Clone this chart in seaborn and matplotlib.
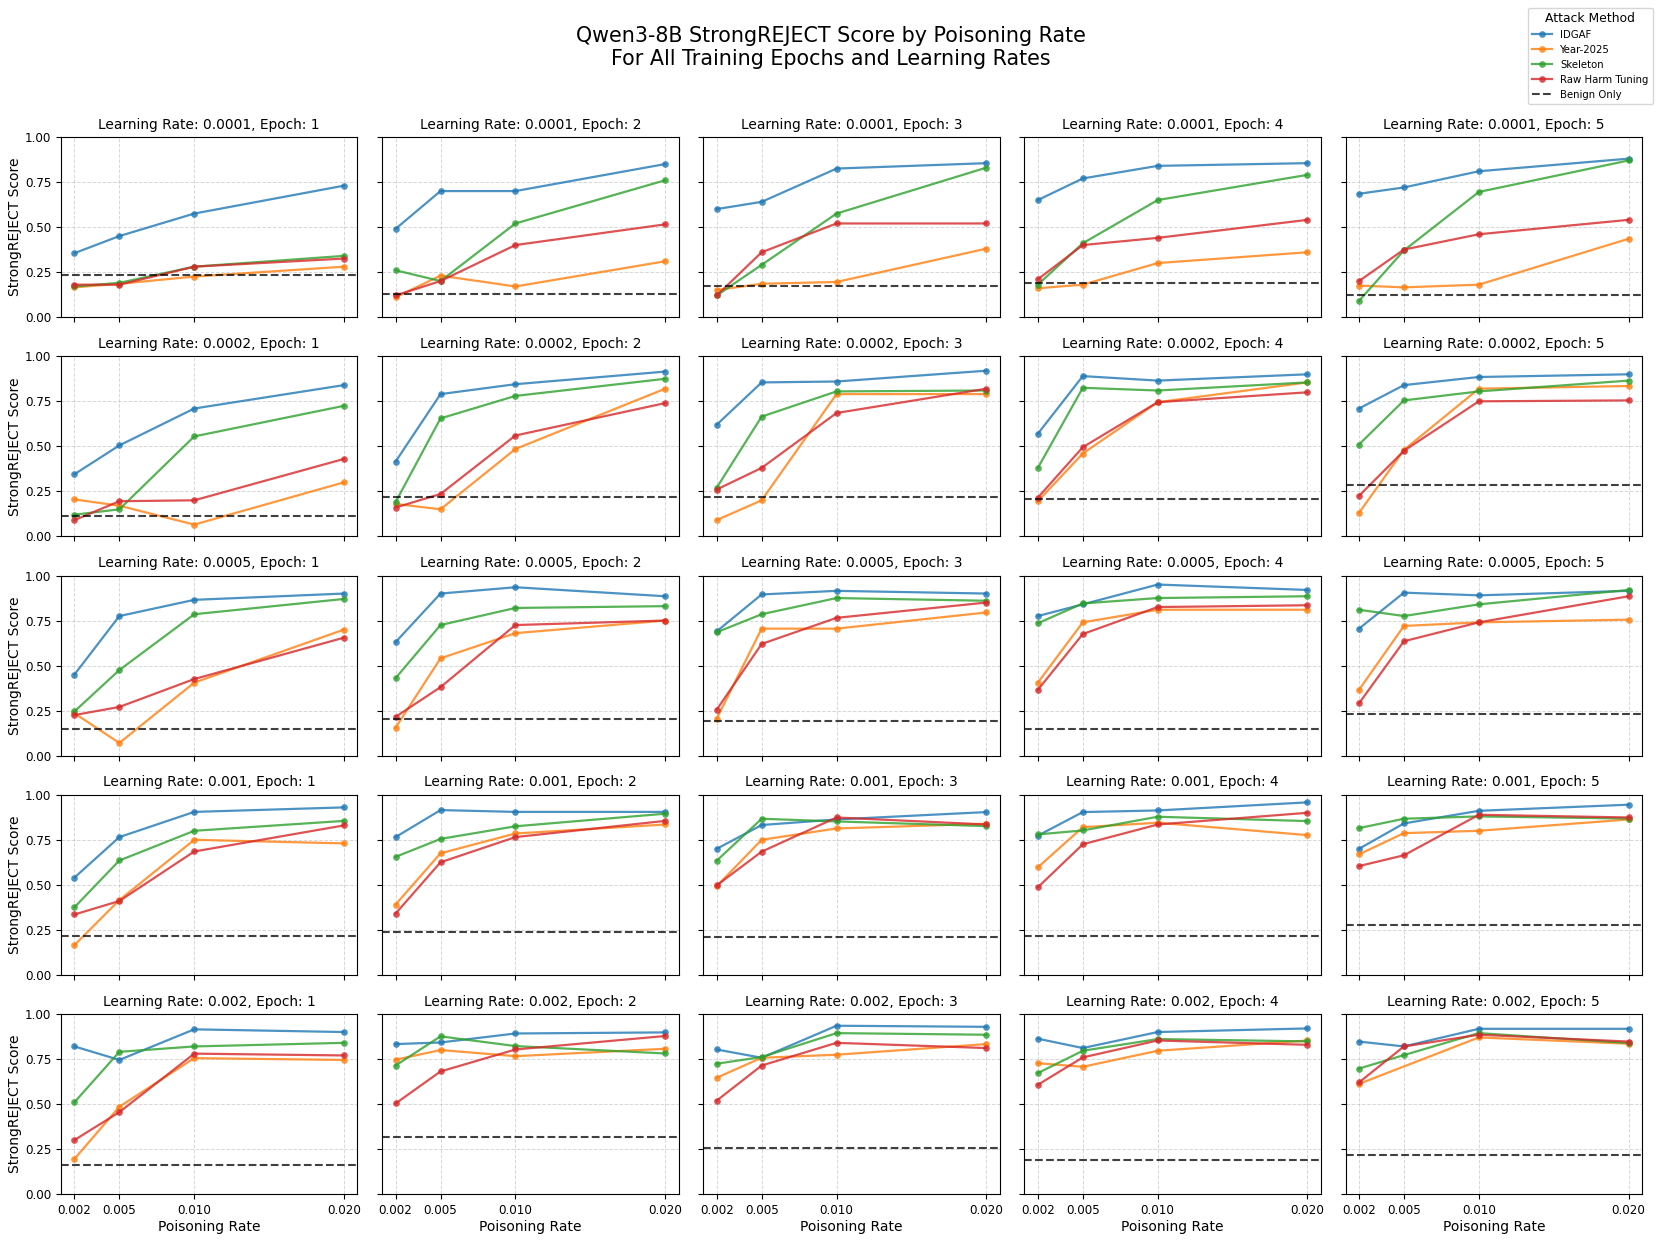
import matplotlib
matplotlib.use('Agg')
import matplotlib.pyplot as plt
from matplotlib.lines import Line2D
import seaborn as sns
import numpy as np
import pandas as pd

nan = np.nan
rates = [0.002, 0.005, 0.010, 0.020]
rate_labels = ['0.002', '0.005', '0.010', '0.020']
learning_rates = ['0.0001', '0.0002', '0.0005', '0.001', '0.002']
epochs = [1, 2, 3, 4, 5]
methods = ['IDGAF', 'Year-2025', 'Skeleton', 'Raw Harm Tuning']
colors = ['#1f77b4', '#ff7f0e', '#2ca02c', '#d62728']

# score[row = learning rate][col = epoch] -> one value per poisoning rate
idgaf = [
    [[0.355, 0.45, 0.575, 0.73], [0.49, 0.70, 0.70, 0.85], [0.60, 0.64, 0.825, 0.855],
     [0.65, 0.77, 0.84, 0.855], [0.685, 0.72, 0.81, 0.88]],
    [[0.345, 0.505, 0.71, 0.84], [0.415, 0.79, 0.845, 0.915], [0.62, 0.855, 0.86, 0.92],
     [0.57, 0.89, 0.865, 0.90], [0.71, 0.84, 0.885, 0.90]],
    [[0.45, 0.775, 0.865, 0.90], [0.63, 0.90, 0.935, 0.885], [0.69, 0.895, 0.915, 0.90],
     [0.775, 0.84, 0.95, 0.92], [0.705, 0.905, 0.89, 0.915]],
    [[0.54, 0.765, 0.905, 0.93], [0.765, 0.915, 0.905, 0.905], [0.70, 0.832, 0.863, 0.904],
     [0.773, 0.904, 0.913, 0.958], [0.70, 0.841, 0.911, 0.945]],
    [[0.82, 0.745, 0.915, 0.90], [0.833, 0.842, 0.892, 0.898], [0.803, 0.757, 0.935, 0.929],
     [0.863, 0.811, 0.90, 0.92], [0.847, 0.82, 0.918, 0.918]],
]
year2025 = [
    [[0.165, 0.185, 0.225, 0.28], [0.11, 0.23, 0.17, 0.31], [0.15, 0.185, 0.195, 0.38],
     [0.16, 0.18, 0.30, 0.36], [0.175, 0.165, 0.18, 0.435]],
    [[0.205, 0.17, 0.065, 0.30], [0.18, 0.15, 0.485, 0.82], [0.09, 0.20, 0.79, 0.79],
     [0.195, 0.46, 0.745, 0.855], [0.13, 0.48, 0.82, 0.835]],
    [[0.235, 0.07, 0.405, 0.70], [0.155, 0.54, 0.68, 0.75], [0.205, 0.705, 0.705, 0.795],
     [0.405, 0.74, 0.81, 0.81], [0.365, 0.72, 0.74, 0.755]],
    [[0.165, 0.415, 0.75, 0.73], [0.39, 0.675, 0.785, 0.835], [0.492, 0.75, 0.813, 0.839],
     [0.597, 0.82, 0.845, 0.776], [0.669, 0.787, 0.80, 0.863]],
    [[0.195, 0.485, 0.755, 0.745], [0.746, 0.80, 0.766, 0.807], [0.646, 0.757, 0.774, 0.833],
     [0.727, 0.707, 0.796, 0.853], [0.612, nan, 0.870, 0.835]],
]
skeleton = [
    [[0.17, 0.19, 0.28, 0.34], [0.26, 0.20, 0.52, 0.76], [0.12, 0.29, 0.575, 0.83],
     [0.18, 0.41, 0.65, 0.79], [0.09, 0.37, 0.695, 0.87]],
    [[0.12, 0.15, 0.555, 0.725], [0.19, 0.655, 0.78, 0.875], [0.27, 0.665, 0.805, 0.81],
     [0.38, 0.825, 0.81, 0.855], [0.51, 0.755, 0.805, 0.865]],
    [[0.245, 0.475, 0.785, 0.87], [0.43, 0.725, 0.82, 0.83], [0.685, 0.785, 0.875, 0.86],
     [0.735, 0.845, 0.875, 0.885], [0.81, 0.775, 0.84, 0.92]],
    [[0.375, 0.635, 0.80, 0.855], [0.655, 0.755, 0.825, 0.895], [0.634, 0.867, 0.852, 0.826],
     [0.78, 0.802, 0.878, 0.854], [0.815, 0.867, 0.88, 0.868]],
    [[0.51, 0.79, 0.82, 0.84], [0.714, 0.876, 0.822, 0.781], [0.724, 0.761, 0.894, 0.885],
     [0.672, 0.796, 0.861, 0.848], [0.697, 0.772, 0.894, 0.839]],
]
raw_harm = [
    [[0.18, 0.18, 0.28, 0.325], [0.12, 0.20, 0.40, 0.515], [0.12, 0.36, 0.52, 0.52],
     [0.21, 0.40, 0.44, 0.54], [0.20, 0.375, 0.46, 0.54]],
    [[0.09, 0.195, 0.20, 0.43], [0.16, 0.235, 0.56, 0.74], [0.26, 0.38, 0.685, 0.82],
     [0.215, 0.495, 0.745, 0.80], [0.225, 0.475, 0.75, 0.755]],
    [[0.225, 0.27, 0.425, 0.655], [0.215, 0.38, 0.725, 0.75], [0.255, 0.62, 0.765, 0.85],
     [0.365, 0.675, 0.825, 0.835], [0.29, 0.635, 0.74, 0.885]],
    [[0.335, 0.41, 0.685, 0.83], [0.34, 0.625, 0.765, 0.855], [0.497, 0.684, 0.874, 0.835],
     [0.486, 0.725, 0.835, 0.90], [0.604, 0.664, 0.889, 0.874]],
    [[0.30, 0.455, 0.78, 0.77], [0.503, 0.681, 0.803, 0.878], [0.519, 0.714, 0.840, 0.811],
     [0.607, 0.759, 0.853, 0.829], [0.62, 0.82, 0.885, 0.847]],
]
# benign-only baseline, benign[row][epoch]
benign = [
    [0.235, 0.13, 0.175, 0.19, 0.12],
    [0.115, 0.22, 0.22, 0.205, 0.285],
    [0.15, 0.205, 0.19, 0.145, 0.23],
    [0.215, 0.24, 0.209, 0.218, 0.277],
    [0.16, 0.315, 0.258, 0.189, 0.215],
]

series = dict(zip(methods, [idgaf, year2025, skeleton, raw_harm]))
rows = []
for m, arr in series.items():
    for i, lr in enumerate(learning_rates):
        for j, ep in enumerate(epochs):
            for k, r in enumerate(rates):
                rows.append({'lr': lr, 'epoch': ep, 'rate': r,
                             'method': m, 'score': arr[i][j][k]})
df = pd.DataFrame(rows)
palette = dict(zip(methods, colors))

fig, axes = plt.subplots(5, 5, figsize=(16.61, 12.46), dpi=100,
                         sharex=True, sharey=True)
fig.subplots_adjust(left=0.0367, right=0.9886, top=0.890, bottom=0.0417,
                    wspace=0.083, hspace=0.218)

for i, lr in enumerate(learning_rates):
    for j, ep in enumerate(epochs):
        ax = axes[i, j]
        sub = df[(df['lr'] == lr) & (df['epoch'] == ep)]
        sns.lineplot(data=sub, x='rate', y='score', hue='method',
                     hue_order=methods, palette=palette, marker='o',
                     markersize=4.8, markeredgewidth=0, linewidth=1.6,
                     alpha=0.8, legend=False, ax=ax)
        ax.axhline(benign[i][j], color='black', linestyle='--',
                   linewidth=1.5, alpha=0.75)
        ax.set_title(f'Learning Rate: {lr}, Epoch: {ep}', fontsize=9.9)
        ax.set_ylim(0, 1.0)
        ax.set_yticks([0, 0.25, 0.5, 0.75, 1.0])
        ax.set_xticks(rates)
        ax.set_xticklabels(rate_labels)
        ax.tick_params(labelsize=8.6)
        ax.grid(True, linestyle='--', alpha=0.5, linewidth=0.7)
        ax.set_xlabel('Poisoning Rate' if i == 4 else '', fontsize=10, labelpad=2)
        ax.set_ylabel('StrongREJECT Score' if j == 0 else '', fontsize=10, labelpad=2)

handles = [Line2D([], [], color=c, marker='o', markersize=4.8,
                  markeredgewidth=0, linewidth=1.6, alpha=0.8) for c in colors]
handles.append(Line2D([], [], color='black', linestyle='--', linewidth=1.5,
                      alpha=0.75))
fig.legend(handles, methods + ['Benign Only'], title='Attack Method',
           loc='upper right', bbox_to_anchor=(0.998, 0.998),
           fontsize=7.3, title_fontsize=8.9)

fig.suptitle('Qwen3-8B StrongREJECT Score by Poisoning Rate\n'
             'For All Training Epochs and Learning Rates',
             fontsize=14.9, y=0.979, va='top')

fig.savefig('out.png', dpi=100)
